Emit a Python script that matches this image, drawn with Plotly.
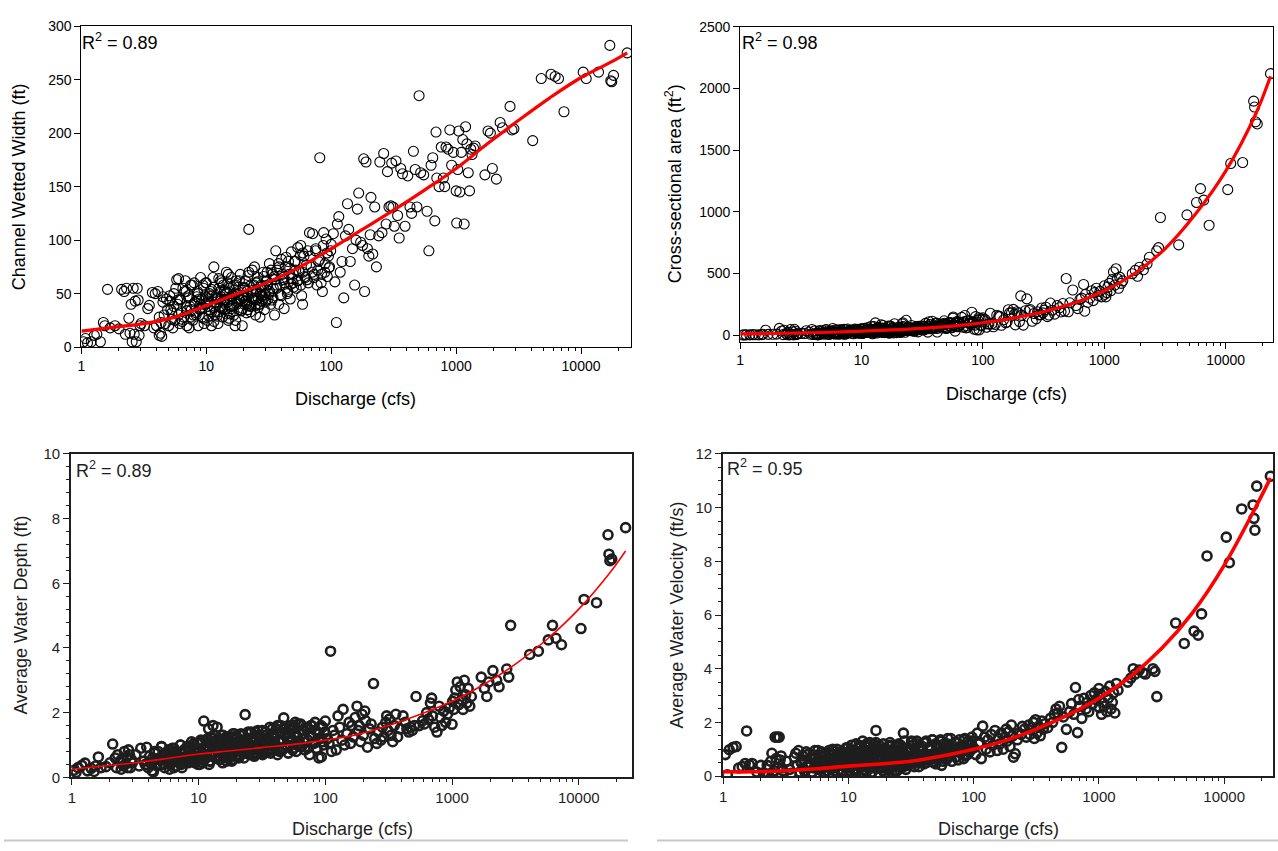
import plotly.graph_objects as go

# ---------------------------------------------------------------------------
# Field measurements: discharge and the matching hydraulic geometry
# ---------------------------------------------------------------------------
discharge_cfs = [
    # 1-3 cfs
    1.04, 1.08, 1.12, 1.2, 1.27, 1.33, 1.42, 1.5, 1.54, 1.62,
    1.7, 1.86, 2.0, 2.1, 2.2, 2.25, 2.3, 2.4, 2.45, 2.5,
    2.55, 2.6, 2.65, 2.7, 2.75, 2.8, 2.85, 2.9,
    # 3-10 cfs
    2.95, 3.0, 3.2, 3.4, 3.5, 3.7, 3.8, 3.9, 4.0, 4.1,
    4.2, 4.3, 4.35, 4.4, 4.5, 4.6, 4.8, 5.0, 5.1, 5.2,
    5.4, 5.5, 5.6, 5.8, 5.9, 6.0, 6.1, 6.2, 6.3, 6.5,
    6.6, 6.8, 6.9, 7.0, 7.2, 7.3, 7.5, 7.6, 7.8, 8.0,
    8.1, 8.3, 8.5, 8.6, 8.8, 9.0, 9.1, 9.3, 9.5, 9.6,
    9.8, 9.9,
    # 10-30 cfs
    10.0, 10.2, 10.4, 10.6, 10.8, 11.0, 11.3, 11.5, 11.7, 12.0,
    12.2, 12.4, 12.6, 12.8, 13.0, 13.2, 13.5, 13.7, 14.0, 14.2,
    14.5, 14.8, 15.0, 15.3, 15.6, 15.9, 16.2, 16.6, 17.0, 17.3,
    17.6, 18.0, 18.3, 18.7, 19.0, 19.4, 19.8, 20.2, 20.6, 21.0,
    21.5, 21.9, 22.3, 22.8, 23.3, 23.8, 24.3, 24.8, 25.3, 25.8,
    26.3, 26.9, 27.5, 28.0, 28.6, 29.2, 29.8, 10.3, 11.1, 11.9,
    12.9, 13.9, 14.9, 15.8, 16.9, 18.5, 19.6, 21.2, 23.0, 25.0,
    27.0,
    # 30-100 cfs
    30.5, 31.2, 32.0, 32.8, 33.6, 34.4, 35.2, 36.0, 37.0, 38.0,
    39.0, 40.0, 41.0, 42.0, 43.0, 44.5, 46.0, 47.0, 48.0, 49.5,
    51.0, 52.5, 54.0, 55.5, 57.0, 58.0, 59.0, 60.5, 62.0, 64.0,
    65.0, 67.0, 69.0, 71.0, 73.0, 75.0, 77.0, 79.0, 81.0, 83.0,
    85.0, 87.0, 89.0, 91.0, 93.0, 95.0, 97.0,
    # 100-300 cfs
    100, 104, 107, 110, 112, 115, 118, 122, 126, 130,
    135, 138, 142, 148, 154, 158, 162, 166, 172, 178,
    182, 185, 190, 195, 200, 205, 208, 215, 223, 230,
    240, 245, 255, 263, 275, 282, 290, 300,
    # 300-1000 cfs
    305, 312, 320, 330, 340, 350, 360, 372, 390, 410,
    427, 440, 455, 470, 485, 505, 520, 550, 585, 605,
    630, 650, 675, 690, 700, 730, 760, 790, 810, 830,
    860, 890, 920, 950, 1000, 1010,
    # 1000-3000 cfs
    1030, 1050, 1070, 1100, 1130, 1160, 1190, 1220, 1250, 1280,
    1310, 1340, 1380, 1420, 1700, 1800, 1880, 1950, 2100, 2250,
    2350, 2700, 2800, 2900,
    # above 3000 cfs
    4100, 4800, 5750, 6200, 6600, 7300, 10400, 11000, 13800, 17000,
    17300, 17600, 18200, 23400,
    # second pass through the crowded 4-100 cfs reaches
    4.2, 4.5, 4.7, 4.9, 5.1, 5.3, 5.5, 5.7, 6.0, 6.2,
    6.4, 6.7, 7.0, 7.2, 7.5, 7.7, 8.0, 8.3, 8.6, 8.9,
    9.2, 9.5, 9.9, 10.2, 10.6, 11.0, 11.4, 11.8, 12.2, 12.6,
    13.1, 13.5, 14.0, 14.5, 15.0, 15.5, 16.1, 16.6, 17.2, 17.8,
    18.4, 19.1, 19.7, 20.4, 21.1, 21.9, 22.6, 23.4, 24.2, 25.1,
    26.0, 26.9, 27.8, 28.8, 29.8, 30.8, 31.9, 33.0, 34.2, 35.4,
    36.6, 37.9, 39.2, 40.6, 42.0, 43.5, 45.0, 46.6, 48.2, 49.9,
    51.6, 53.4, 55.3, 57.2, 59.2, 61.3, 63.4, 65.6, 67.9, 70.3,
    72.8, 75.3, 78.0, 80.7, 83.5, 86.4, 89.4, 92.5, 95.8, 99.1,
    12.0, 14.0, 16.0, 18.0, 20.0, 22.0, 24.0, 26.0, 28.0, 30.0,
    # third pass, 5-60 cfs
    5.3, 5.9, 6.4, 6.9, 7.4, 7.9, 8.4, 8.9, 9.4, 9.9,
    10.5, 11.0, 11.6, 12.1, 12.7, 13.3, 13.9, 14.6, 15.2, 15.9,
    16.6, 17.4, 18.1, 18.9, 19.8, 20.7, 21.6, 22.6, 23.6, 24.6,
    25.7, 26.9, 28.1, 29.4, 30.7, 32.1, 33.5, 35.0, 36.6, 38.2,
    39.9, 41.7, 43.6, 45.5, 47.6, 49.7, 52.0, 54.3, 56.7, 59.3,
    7.0, 9.0, 11.5, 13.0, 15.5, 17.5, 19.5, 21.5, 24.5, 27.5,
]

wetted_width_ft = [
    5, 8, 4, 5, 11, 12, 5, 23, 20, 54,
    18, 20, 17, 54, 52, 12, 55, 27, 13, 40,
    5, 55, 12, 43, 5, 55, 44, 11,
    20, 22, 20, 36, 39, 51, 18, 50, 20, 52,
    11, 13, 23, 10, 47, 30, 45, 20, 43, 35,
    18, 50, 25, 63, 40, 64, 22, 45, 33, 55,
    28, 62, 38, 20, 48, 18, 58, 35, 25, 60,
    42, 30, 52, 20, 45, 65, 37, 28, 55, 22,
    48, 40,
    60, 25, 45, 35, 52, 20, 65, 75, 30, 48,
    40, 22, 55, 38, 62, 45, 28, 58, 35, 50,
    70, 42, 25, 55, 38, 65, 48, 30, 20, 58,
    42, 52, 35, 68, 45, 20, 55, 40, 62, 32,
    48, 110, 57, 38, 72, 45, 75, 30, 52, 65,
    40, 28, 58, 48, 70, 35, 55, 42, 48, 33,
    52, 44, 60, 36, 50, 44, 36, 52, 46, 44,
    50,
    62, 45, 78, 40, 68, 55, 30, 90, 72, 40,
    58, 82, 65, 36, 75, 50, 68, 45, 89, 60,
    80, 55, 93, 70, 95, 48, 40, 85, 65, 63,
    90, 107, 75, 106, 68, 90, 58, 80, 177, 60,
    52, 107, 70, 101, 66, 85, 75,
    96, 106, 61, 23, 115, 122, 70, 80, 46, 104,
    134, 110, 80, 92, 58, 100, 129, 144, 98, 95,
    176, 52, 173, 92, 85, 105, 140, 87, 131, 75,
    104, 173, 107, 181, 115, 164, 131, 132,
    172, 131, 113, 174, 123, 102, 167, 162, 113, 160,
    131, 125, 183, 166, 131, 235, 163, 161, 127, 90,
    170, 177, 118, 201, 158, 150, 187, 158, 150, 187,
    185, 203, 170, 182, 146, 116,
    166, 202, 145, 182, 194, 115, 206, 190, 163, 146,
    185, 180, 186, 188, 161, 202, 200, 167, 157, 210,
    205, 225, 203, 204,
    193, 251, 255, 253, 251, 220, 257, 251, 257, 282,
    249, 248, 254, 275,
    28, 42, 22, 35, 48, 26, 38, 55, 30, 44,
    24, 52, 34, 46, 28, 58, 40, 32, 50, 36,
    45, 27, 60, 38, 50, 33, 56, 42, 29, 64,
    47, 36, 53, 31, 68, 44, 38, 58, 25, 49,
    62, 34, 46, 55, 40, 70, 33, 51, 44, 60,
    37, 56, 48, 66, 42, 58, 50, 72, 46, 63,
    55, 78, 49, 68, 60, 84, 52, 74, 64, 56,
    80, 62, 71, 58, 88, 66, 77, 60, 85, 70,
    65, 92, 72, 82, 68, 95, 78, 88, 74, 90,
    45, 52, 41, 56, 48, 39, 58, 46, 53, 44,
    32, 44, 26, 52, 38, 30, 47, 35, 58, 41,
    29, 54, 37, 46, 33, 60, 42, 51, 27, 48,
    39, 62, 45, 34, 56, 43, 67, 38, 53, 46,
    61, 40, 57, 49, 70, 52, 44, 66, 58, 75,
    48, 63, 55, 80, 59, 68, 72, 62, 86, 70,
    34, 40, 24, 37, 31, 40, 47, 35, 39, 43,
]

cross_area_ft2 = [
    1, 2, 2, 2, 4, 3, 2, 4, 7, 40,
    6, 7, 8, 55, 33, 4, 40, 13, 3, 22,
    2, 45, 5, 27, 2, 47, 31, 4,
    11, 10, 14, 13, 35, 25, 7, 46, 6, 34,
    5, 3, 14, 2, 35, 17, 36, 8, 41, 21,
    5, 35, 13, 54, 10, 42, 10, 41, 18, 44,
    10, 43, 23, 9, 48, 7, 44, 19, 21, 39,
    40, 14, 42, 11, 50, 46, 22, 25, 28, 17,
    50, 16,
    51, 14, 52, 25, 23, 35, 62, 45, 24, 72,
    42, 11, 69, 29, 99, 41, 18, 64, 54, 43,
    84, 23, 25, 44, 49, 46, 50, 18, 18, 73,
    32, 57, 18, 92, 38, 20, 36, 48, 59, 22,
    62, 99, 66, 23, 120, 47, 60, 41, 36, 78,
    36, 31, 38, 67, 70, 26, 69, 27, 41, 31,
    36, 44, 57, 31, 48, 44, 29, 49, 39, 44,
    48,
    53, 56, 55, 42, 95, 52, 24, 108, 54, 54,
    61, 74, 98, 25, 86, 80, 58, 83, 116, 60,
    60, 80, 102, 63, 147, 82, 32, 106, 68, 104,
    86, 144, 64, 159, 78, 63, 93, 100, 186, 102,
    47, 150, 42, 121, 42, 132, 75,
    140, 127, 64, 90, 92, 177, 91, 68, 87, 161,
    154, 150, 80, 124, 99, 105, 206, 180, 181, 209,
    170, 83, 190, 179, 110, 318, 160, 81, 197, 294,
    200, 208, 112, 175, 132, 190, 164, 165,
    220, 180, 203, 226, 150, 163, 260, 202, 170, 240,
    222, 188, 256, 194, 459, 189, 262, 366, 240, 215,
    290, 300, 411, 194, 330, 265, 300, 360, 280, 345,
    380, 320, 355, 310, 400, 330,
    310, 345, 390, 420, 360, 450, 512, 406, 538, 459,
    380, 470, 420, 440, 498, 525, 477, 551, 530, 578,
    631, 684, 710, 954,
    732, 975, 1076, 1188, 1095, 891, 1180, 1392, 1400, 1898,
    1850, 1731, 1713, 2121,
    13, 34, 8, 21, 46, 10, 27, 30, 26, 22,
    7, 39, 20, 46, 13, 49, 26, 30, 25, 25,
    47, 15, 48, 15, 55, 21, 50, 50, 15, 48,
    47, 47, 32, 26, 78, 20, 36, 73, 18, 51,
    34, 46, 37, 61, 26, 70, 43, 38, 53, 54,
    52, 39, 53, 56, 55, 55, 73, 54, 55, 66,
    85, 66, 64, 68, 96, 67, 73, 85, 96, 53,
    100, 99, 60, 78, 97, 109, 73, 87, 102, 109,
    59, 120, 115, 86, 99, 81, 105, 141, 81, 126,
    43, 60, 31, 59, 60, 35, 64, 37, 64, 44,
    22, 18, 23, 29, 11, 24, 31, 35, 26, 35,
    32, 32, 35, 18, 40, 45, 44, 28, 35, 38,
    20, 71, 32, 43, 50, 26, 90, 38, 40, 64,
    58, 48, 40, 71, 74, 42, 57, 73, 52, 113,
    58, 54, 77, 88, 91, 65, 97, 74, 138, 70,
    20, 20, 28, 26, 31, 24, 59, 30, 41, 32,
]

water_depth_ft = [
    0.22, 0.15, 0.30, 0.37, 0.44, 0.20, 0.28, 0.18, 0.35, 0.63,
    0.30, 0.33, 0.45, 1.03, 0.60, 0.30, 0.70, 0.50, 0.25, 0.55,
    0.35, 0.80, 0.40, 0.62, 0.30, 0.85, 0.70, 0.30,
    0.55, 0.45, 0.70, 0.35, 0.90, 0.50, 0.40, 0.93, 0.30, 0.65,
    0.45, 0.20, 0.60, 0.17, 0.75, 0.55, 0.80, 0.40, 0.95, 0.60,
    0.30, 0.70, 0.50, 0.85, 0.25, 0.65, 0.45, 0.90, 0.55, 0.80,
    0.35, 0.70, 0.60, 0.45, 1.00, 0.40, 0.75, 0.55, 0.85, 0.65,
    0.95, 0.45, 0.80, 0.55, 1.10, 0.70, 0.60, 0.90, 0.50, 0.75,
    1.05, 0.40,
    0.85, 0.55, 1.15, 0.70, 0.45, 1.74, 0.95, 0.60, 0.80, 1.50,
    1.05, 0.50, 1.25, 0.75, 1.60, 0.90, 0.65, 1.10, 1.55, 0.85,
    1.20, 0.55, 1.00, 0.80, 1.30, 0.70, 1.05, 0.60, 0.90, 1.25,
    0.75, 1.10, 0.50, 1.35, 0.85, 1.00, 0.65, 1.20, 0.95, 0.70,
    1.30, 0.90, 1.15, 0.60, 1.94, 1.05, 0.80, 1.35, 0.70, 1.20,
    0.90, 1.10, 0.65, 1.40, 1.00, 0.75, 1.25, 0.65, 0.85, 0.95,
    0.70, 1.00, 0.95, 0.85, 0.95, 1.00, 0.80, 0.95, 0.85, 1.00,
    0.95,
    0.85, 1.25, 0.70, 1.05, 1.40, 0.95, 0.80, 1.20, 0.75, 1.35,
    1.05, 0.90, 1.50, 0.70, 1.15, 1.60, 0.85, 1.84, 1.30, 1.00,
    0.75, 1.45, 1.10, 0.90, 1.55, 1.70, 0.80, 1.25, 1.05, 1.65,
    0.95, 1.35, 0.85, 1.50, 1.15, 0.70, 1.60, 1.25, 1.05, 1.70,
    0.90, 1.40, 0.60, 1.20, 0.63, 1.55, 1.00,
    1.74, 1.20, 1.05, 3.90, 0.80, 1.45, 1.30, 0.85, 1.90, 1.55,
    1.15, 2.10, 1.00, 1.35, 1.70, 1.05, 1.60, 1.25, 1.85, 2.20,
    1.45, 1.60, 1.10, 1.95, 1.30, 2.05, 1.75, 0.93, 1.50, 1.65,
    2.90, 1.20, 1.05, 1.40, 1.15, 1.55, 1.25, 1.70,
    1.90, 1.45, 1.80, 1.30, 1.10, 1.60, 1.95, 1.25, 1.50, 1.90,
    1.70, 1.50, 1.40, 1.55, 1.45, 1.60, 2.50, 1.60, 1.75, 1.65,
    2.00, 1.80, 2.30, 2.45, 1.90, 1.55, 1.40, 2.20, 1.85, 1.60,
    2.05, 1.70, 1.95, 2.15, 1.64, 2.35,
    2.10, 2.45, 2.70, 2.95, 2.25, 2.80, 2.40, 2.10, 3.00, 2.55,
    2.30, 2.75, 2.20, 2.50, 3.10, 2.75, 2.50, 2.95, 3.30, 3.00,
    2.80, 3.35, 3.10, 4.70,
    3.80, 3.90, 4.25, 4.70, 4.30, 4.10, 4.60, 5.50, 5.40, 7.50,
    6.90, 6.70, 6.75, 7.72,
    0.45, 0.80, 0.35, 0.60, 0.95, 0.40, 0.70, 0.55, 0.85, 0.50,
    0.30, 0.75, 0.60, 1.00, 0.45, 0.85, 0.65, 0.95, 0.50, 0.70,
    1.05, 0.55, 0.80, 0.40, 1.10, 0.65, 0.90, 1.20, 0.50, 0.75,
    1.00, 1.30, 0.60, 0.85, 1.15, 0.45, 0.95, 1.25, 0.70, 1.05,
    0.55, 1.35, 0.80, 1.10, 0.65, 1.00, 1.30, 0.75, 1.20, 0.90,
    1.40, 0.70, 1.10, 0.85, 1.30, 0.95, 1.45, 0.75, 1.20, 1.05,
    1.55, 0.85, 1.30, 1.00, 1.60, 0.80, 1.40, 1.15, 1.50, 0.95,
    1.25, 1.60, 0.85, 1.35, 1.10, 1.65, 0.95, 1.45, 1.20, 1.55,
    0.90, 1.30, 1.60, 1.05, 1.45, 0.85, 1.35, 1.60, 1.10, 1.40,
    0.95, 1.15, 0.75, 1.05, 1.25, 0.90, 1.10, 0.80, 1.20, 1.00,
    0.70, 0.40, 0.90, 0.55, 0.30, 0.80, 0.65, 1.00, 0.45, 0.85,
    1.10, 0.60, 0.95, 0.40, 1.20, 0.75, 1.05, 0.55, 1.30, 0.80,
    0.50, 1.15, 0.70, 1.25, 0.90, 0.60, 1.35, 1.00, 0.75, 1.40,
    0.95, 1.20, 0.70, 1.45, 1.05, 0.80, 1.30, 1.10, 0.90, 1.50,
    1.20, 0.85, 1.40, 1.10, 1.55, 0.95, 1.35, 1.20, 1.60, 1.00,
    0.60, 0.50, 1.15, 0.70, 1.00, 0.60, 1.25, 0.85, 1.05, 0.75,
]

water_velocity_fps = [
    0.80, 0.05, 0.98, 1.07, 1.10, 0.30, 0.35, 0.47, 1.68, 0.42,
    0.47, 0.15, 0.40, 0.12, 0.06, 0.40, 0.05, 0.55, 0.85, 0.10,
    0.20, 1.45, 0.65, 1.45, 0.30, 1.45, 0.60, 0.75,
    0.30, 0.20, 0.55, 0.25, 0.10, 0.70, 0.85, 0.40, 0.95, 0.15,
    0.50, 0.75, 0.30, 0.60, 0.20, 0.90, 0.45, 0.65, 0.15, 0.80,
    0.95, 0.35, 0.55, 0.25, 0.75, 0.50, 0.90, 0.30, 0.60, 0.85,
    0.40, 0.20, 0.70, 0.95, 0.45, 0.60, 0.30, 0.80, 0.55, 0.35,
    1.00, 0.65, 0.25, 0.75, 0.50, 0.90, 0.40, 0.70, 0.30, 1.05,
    0.55, 0.85,
    0.30, 0.60, 0.95, 1.15, 0.45, 0.75, 0.20, 1.20, 0.55, 0.85,
    0.35, 1.05, 0.65, 0.15, 1.30, 0.50, 0.80, 1.10, 0.40, 0.70,
    0.95, 1.25, 0.60, 0.30, 0.85, 1.05, 0.45, 1.70, 0.70, 0.55,
    1.15, 0.35, 0.90, 0.60, 1.20, 0.75, 0.50, 1.00, 0.25, 0.80,
    1.25, 0.40, 0.10, 0.95, 0.65, 1.10, 0.50, 0.85, 1.20, 0.35,
    0.75, 1.05, 1.60, 1.30, 0.55, 0.90, 0.70, 0.70, 0.60, 0.90,
    0.75, 0.60, 0.80, 0.65, 0.85, 0.70, 0.95, 0.65, 0.80, 0.95,
    0.80,
    0.45, 0.90, 0.65, 1.15, 0.35, 0.80, 1.30, 0.55, 0.95, 0.70,
    1.10, 0.45, 0.85, 1.25, 0.60, 1.00, 0.75, 1.35, 0.50, 0.90,
    1.15, 0.65, 1.05, 0.40, 0.80, 1.20, 0.95, 0.60, 1.40, 0.75,
    1.10, 0.55, 0.90, 1.25, 0.70, 1.00, 1.35, 0.85, 1.15, 0.65,
    1.40, 1.05, 0.80, 1.30, 0.95, 1.20, 1.45,
    1.05, 0.80, 1.60, 1.20, 1.25, 0.65, 1.86, 1.45, 1.00, 1.35,
    0.90, 1.55, 1.15, 1.70, 0.95, 1.40, 1.20, 1.60, 1.00, 1.45,
    1.75, 1.30, 1.65, 1.10, 1.90, 1.50, 0.70, 0.83, 1.35, 1.60,
    1.55, 1.85, 1.75, 1.45, 1.90, 1.55, 1.80, 2.00,
    1.40, 2.10, 1.60, 1.85, 1.50, 2.05, 1.75, 1.95, 1.80, 2.15,
    2.00, 2.30, 2.50, 2.35, 2.60, 1.07, 2.20, 1.74, 2.40, 2.70,
    2.30, 3.30, 1.62, 2.85, 2.60, 2.15, 2.90, 2.50, 2.75, 2.40,
    3.00, 2.70, 3.10, 2.85, 3.26, 2.55,
    3.05, 2.30, 2.75, 2.60, 3.15, 2.40, 2.90, 3.35, 2.50, 2.75,
    3.10, 2.35, 3.45, 3.20, 3.50, 3.65, 4.00, 3.80, 3.95, 3.85,
    3.80, 4.00, 3.90, 2.96,
    5.70, 4.94, 5.40, 5.25, 6.04, 8.20, 8.90, 7.95, 9.95, 10.10,
    9.60, 9.16, 10.80, 11.17,
    0.55, 0.15, 0.80, 0.35, 0.10, 0.65, 0.45, 0.95, 0.25, 0.70,
    0.05, 0.50, 0.85, 0.30, 1.00, 0.20, 0.60, 0.40, 0.90, 0.10,
    0.75, 0.35, 1.05, 0.20, 0.55, 0.95, 0.10, 0.70, 1.15, 0.40,
    0.85, 0.25, 1.20, 0.55, 0.05, 0.90, 0.45, 1.25, 0.30, 0.65,
    1.00, 0.20, 0.80, 0.50, 1.10, 0.35, 0.70, 0.15, 0.95, 0.60,
    1.15, 0.40, 0.85, 0.25, 1.05, 0.55, 1.30, 0.45, 0.75, 1.20,
    0.35, 0.95, 0.60, 1.25, 0.50, 1.05, 0.80, 1.35, 0.65, 0.45,
    1.10, 0.75, 1.30, 0.55, 0.90, 1.20, 0.70, 1.40, 0.85, 1.00,
    1.25, 0.60, 1.10, 0.95, 1.35, 0.75, 1.15, 0.90, 1.30, 1.05,
    0.45, 0.70, 0.95, 0.30, 0.60, 0.85, 0.40, 1.00, 0.55, 0.75,
    0.30, 0.75, 0.15, 0.60, 0.95, 0.40, 0.80, 0.20, 0.65, 0.45,
    0.90, 0.25, 0.70, 1.10, 0.35, 0.55, 0.15, 0.95, 0.60, 1.20,
    0.40, 0.75, 1.00, 0.30, 0.85, 0.50, 1.15, 0.65, 0.20, 0.90,
    0.55, 1.05, 0.70, 0.40, 0.95, 1.25, 0.60, 0.85, 1.10, 0.50,
    0.75, 1.30, 0.65, 1.00, 0.55, 1.20, 0.80, 1.35, 0.70, 1.05,
    0.05, 0.10, 0.20, 0.05, 0.15, 0.30, 0.10, 0.25, 0.20, 0.35,
]

# Fitted regression curves, sampled every quarter decade of discharge
fit_discharge = [1, 1.78, 3.16, 5.62, 10, 17.8, 31.6, 56.2, 100, 178,
                 316, 562, 1000, 1778, 3162, 5623, 10000, 17783, 23400]
fit_width = [15, 18.5, 22, 28, 39, 50, 61, 75, 92, 110,
             128, 147, 167, 190, 212, 233, 252, 267, 275]
fit_area = [10, 13, 17, 23, 32, 42, 55, 73, 100, 138,
            190, 260, 360, 500, 700, 980, 1330, 1800, 2100]
fit_depth = [0.25, 0.35, 0.45, 0.58, 0.72, 0.82, 0.92, 1.02, 1.15, 1.32,
             1.60, 1.95, 2.35, 2.87, 3.50, 4.27, 5.20, 6.35, 7.00]
fit_velocity = [0.16, 0.16, 0.20, 0.27, 0.37, 0.45, 0.55, 0.75, 1.00, 1.32,
                1.75, 2.27, 2.90, 3.70, 4.75, 6.10, 7.85, 10.0, 11.1]

r_squared = ["0.89", "0.98", "0.89", "0.95"]
y_titles = [
    "Channel Wetted Width (ft)",
    "Cross-sectional area (ft<sup>2</sup>)",
    "Average Water Depth (ft)",
    "Average Water Velocity (ft/s)",
]
x_title = "Discharge (cfs)"
x_tick_values = [1, 10, 100, 1000, 10000]
x_tick_labels = ["1", "10", "100", "1000", "10000"]

# ---------------------------------------------------------------------------
# Page geometry (pixels) for the 2 x 2 arrangement
# ---------------------------------------------------------------------------
W, H = 1278, 851
FONT = "Liberation Sans, Arial, sans-serif"


def dom_x(left, right):
    return [left / W, right / W]


def dom_y(top, bottom):
    return [1 - bottom / H, 1 - top / H]


def px(xp, yp):
    return xp / W, 1 - yp / H


minor_log = [k * 10 ** e for e in range(0, 5) for k in range(2, 10) if k * 10 ** e < 25000]

panels = [
    dict(y=wetted_width_ft, fit=fit_width, xdom=(77.6, 629), ydom=(17.5, 345),
         xr=[0, 4.40], yr=[0, 300], dtick=50, minor_y=None, style="top",
         fitw=3.2, r2=(76, 33), xt=(353, 398), yt=(15, 181)),
    dict(y=cross_area_ft2, fit=fit_area, xdom=(738.5, 1273), ydom=(18.3, 339.3),
         xr=[0, 4.39], yr=[-52, 2500], dtick=500, minor_y=None, style="top",
         fitw=3.2, r2=(738, 33), xt=(1006, 393), yt=(672, 178)),
    dict(y=water_depth_ft, fit=fit_depth, xdom=(67.4, 630), ydom=(454, 784),
         xr=[-0.005, 4.42], yr=[0, 10], dtick=2, minor_y=0.4, style="bottom",
         fitw=1.6, r2=(70, 470), xt=(350, 837), yt=(17, 618)),
    dict(y=water_velocity_fps, fit=fit_velocity, xdom=(721.4, 1273), ydom=(454, 782.7),
         xr=[0, 4.39], yr=[0, 12], dtick=2, minor_y=0.5, style="bottom",
         fitw=3.6, r2=(723, 468), xt=(998, 837), yt=(675, 618)),
]

fig = go.Figure()
annotations = []
layout_axes = {}

for i, p in enumerate(panels, start=1):
    top = p["style"] == "top"
    ink = "black" if top else "#1e1e1e"
    xa = "x" if i == 1 else f"x{i}"
    ya = "y" if i == 1 else f"y{i}"

    fig.add_trace(go.Scatter(
        x=discharge_cfs, y=p["y"], mode="markers", xaxis=xa, yaxis=ya,
        marker=dict(symbol="circle-open", size=10 if top else 9, color=ink,
                    line=dict(width=1.1 if top else 2.6, color=ink)),
        showlegend=False, hoverinfo="x+y",
    ))
    fig.add_trace(go.Scatter(
        x=fit_discharge, y=p["fit"], mode="lines", xaxis=xa, yaxis=ya,
        line=dict(color="#ff0000", width=p["fitw"], shape="spline", smoothing=1.0),
        showlegend=False, hoverinfo="skip",
    ))

    axis_line = 1 if top else 2
    tick_font = dict(family=FONT, size=14 if top else 15, color=ink)
    xkey = "xaxis" if i == 1 else f"xaxis{i}"
    ykey = "yaxis" if i == 1 else f"yaxis{i}"
    layout_axes[xkey] = dict(
        type="log", range=p["xr"], domain=dom_x(*p["xdom"]), anchor=ya,
        tickvals=x_tick_values, ticktext=x_tick_labels,
        ticks="outside", ticklen=6, tickwidth=1, tickcolor=ink,
        showline=True, linecolor=ink, linewidth=axis_line, mirror=True,
        showgrid=False, zeroline=False, tickfont=tick_font,
        minor=dict(tickvals=minor_log, ticks="outside", ticklen=3,
                   tickwidth=1, tickcolor=ink, showgrid=False),
    )
    yaxis = dict(
        range=p["yr"], domain=dom_y(*p["ydom"]), anchor=xa,
        tick0=0, dtick=p["dtick"], ticks="outside", ticklen=6, tickwidth=1,
        tickcolor=ink, showline=True, linecolor=ink, linewidth=axis_line,
        mirror=True, showgrid=False, zeroline=False, tickfont=tick_font,
    )
    if p["minor_y"]:
        yaxis["minor"] = dict(dtick=p["minor_y"], tick0=0, ticks="outside",
                              ticklen=3, tickwidth=1, tickcolor=ink, showgrid=False)
    layout_axes[ykey] = yaxis

    title_font = dict(family=FONT, size=18, color=ink)
    rx, ry = px(*p["r2"])
    annotations.append(dict(
        text=f"R<sup>2</sup> = {r_squared[i - 1]}", x=rx, y=ry, xref="paper", yref="paper",
        xanchor="left", yanchor="middle", showarrow=False,
        font=dict(family=FONT, size=18, color=ink),
    ))
    tx, ty = px(*p["xt"])
    annotations.append(dict(
        text=x_title, x=tx, y=ty, xref="paper", yref="paper",
        xanchor="center", yanchor="middle", showarrow=False, font=title_font,
    ))
    yx, yy = px(*p["yt"])
    annotations.append(dict(
        text=y_titles[i - 1], x=yx, y=yy, xref="paper", yref="paper", textangle=-90,
        xanchor="center", yanchor="middle", showarrow=False, font=title_font,
    ))

# light separators under the lower pair of charts
sep_y = 1 - 848.5 / H
shapes = [
    dict(type="line", xref="paper", yref="paper", x0=0, x1=626 / W, y0=sep_y, y1=sep_y,
         line=dict(color="#c8c8c8", width=2)),
    dict(type="line", xref="paper", yref="paper", x0=655 / W, x1=1, y0=sep_y, y1=sep_y,
         line=dict(color="#c8c8c8", width=2)),
]

fig.update_layout(
    width=W, height=H, autosize=False,
    margin=dict(l=0, r=0, t=0, b=0),
    paper_bgcolor="white", plot_bgcolor="white",
    font=dict(family=FONT, color="black"),
    annotations=annotations, shapes=shapes, showlegend=False,
    **layout_axes,
)

fig.write_html("out.html")
